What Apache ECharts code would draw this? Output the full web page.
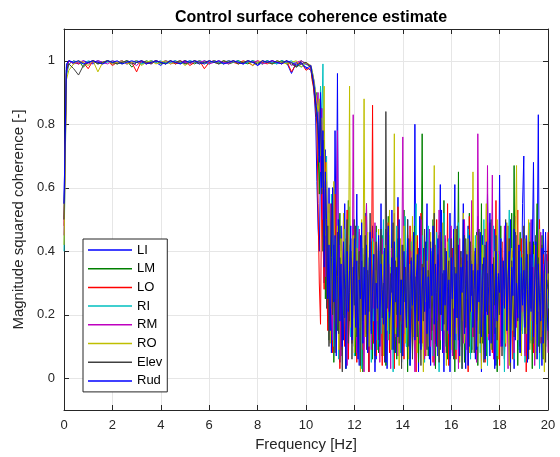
<!DOCTYPE html>
<html>
<head>
<meta charset="utf-8">
<script src="https://cdn.jsdelivr.net/npm/echarts@6/dist/echarts.min.js"></script>
<style>html,body{margin:0;padding:0;background:#fff}#c{width:560px;height:457px}</style>
</head>
<body>
<div id="c"></div>
<script>
// ---- frequency grids (Hz) ----
var freqFlat = [0, 0.1];
for (var k = 1; k <= 51; k++) freqFlat.push(+(0.2 * k).toFixed(2));      // 0.2 .. 10.2
var freqNoisy = [];
for (var i = 0; i < 196; i++) freqNoisy.push(+(10.25 + 0.05 * i).toFixed(2)); // 10.25 .. 20

var names = ['LI', 'LM', 'LO', 'RI', 'RM', 'RO', 'Elev', 'Rud'];
var colors = ['#0000ff', '#008000', '#ff0000', '#00bfbf', '#bf00bf', '#bfbf00', '#404040', '#0000ff'];
var xTicks = [0, 2, 4, 6, 8, 10, 12, 14, 16, 18, 20];
var yTicks = [0, 0.2, 0.4, 0.6, 0.8, 1];

// ---- coherence, 0 .. 10.2 Hz ----
var LI_flat = [.55,.98,1,
 .995,.99,1,.995,.99,1,.995,1,.99,.995,
 1,.99,.995,1,.995,.99,1,.995,.985,1,
 .995,1,.99,.995,1,.995,.99,1,.995,1,
 .99,.995,1,.995,1,.99,.995,1,.985,.995,
 1,.995,.99,1,.995,.96,.995,.99,.98,.97];
var LM_flat = [.50,.97,1,
 .99,1,.98,.995,1,.99,.995,1,.995,.99,
 .995,1,.98,.995,.99,1,.995,1,.99,.995,
 1,.99,.995,1,.995,.99,1,.995,.99,1,
 .995,1,.99,.995,1,.995,.99,1,.995,.99,
 1,.99,.995,1,.99,.995,.98,1,.99,.98];
var LO_flat = [.48,.96,.99,
 1,.99,.995,.975,1,.995,.99,1,.985,.995,
 .99,1,.995,.965,1,.99,.995,1,.995,.99,
 1,.99,.995,1,.985,.995,1,.975,.995,1,
 .995,.99,1,.995,.99,1,.995,.985,1,.995,
 .99,1,.995,.99,1,.965,.99,.995,.97,.98];
var RI_flat = [.40,.95,.99,
 1,.995,.99,1,.995,1,.99,.995,1,.995,
 .99,1,.995,1,.99,.995,1,.995,1,.99,
 .995,1,.995,.99,1,.995,1,.995,.99,1,
 .995,.99,1,.995,1,.99,.995,1,.995,.99,
 1,.995,.99,1,.995,1,.99,.98,.99,.985];
var RM_flat = [.45,.96,1,
 .99,.995,1,.99,.995,1,.995,.99,1,.995,
 1,.99,.995,.985,1,.995,.99,1,.995,1,
 .99,.995,1,.995,.99,1,.995,1,.99,.995,
 1,.995,.99,1,.995,.99,1,.995,1,.99,
 .995,1,.995,.99,1,.985,.995,1,.99,.985];
var RO_flat = [.42,.94,.97,
 .99,1,.995,.985,1,.965,.995,1,.99,.995,
 1,.99,.995,1,.985,.995,1,.99,.995,1,
 .99,.995,1,.985,.995,1,.995,.99,1,.995,
 .99,1,.995,1,.99,.995,1,.985,.995,1,
 .995,.99,1,.995,.99,.995,1,.98,.995,.985];
var Elev_flat = [.50,.97,.99,
 .975,.955,.985,.995,1,.99,.995,1,.995,.99,
 .995,1,.99,.995,1,.995,.99,1,.995,.99,
 1,.995,1,.99,.995,1,.99,.995,1,.995,
 .99,1,.995,1,.99,.995,1,.995,.99,1,
 .995,.99,1,.995,1,.99,.98,.99,.995,.98];
var Rud_flat = [.55,.99,1,
 .995,1,.99,.995,1,.995,.99,1,.995,1,
 .99,.995,1,.995,1,.99,.995,1,.995,.99,
 1,.995,.99,1,.995,1,.995,.99,1,.995,
 1,.99,.995,1,.995,.99,1,.995,.985,1,
 .995,1,.995,.99,1,.995,.985,.995,.975,.985];

// ---- coherence, 10.25 .. 20 Hz ----
var LI_noisy = [.95,.93,.88,.82,.62,.47,.40,.66,.85,.55,.30,.72,.45,.18,.60,
 .35,.08,.52,.28,.78,.40,.96,.22,.05,.48,.30,.12,.55,.20,.38,.06,.42,.25,.15,.50,
 .10,.33,.58,.18,.04,.45,.27,.09,.36,.52,.14,.30,.02,.40,.22,.48,.11,.35,.06,.28,
 .44,.16,.55,.07,.31,.20,.47,.03,.38,.25,.12,.53,.19,.40,.08,.34,.57,.15,.26,.05,
 .42,.18,.30,.10,.50,.24,.06,.37,.45,.13,.80,.20,.35,.02,.48,.27,.14,.41,.09,.32,
 .55,.17,.28,.04,.39,.22,.46,.11,.33,.07,.25,.61,.15,.38,.02,.44,.20,.30,.10,.52,
 .26,.08,.36,.61,.18,.45,.05,.29,.40,.12,.55,.21,.03,.34,.48,.16,.27,.09,.42,.23,
 .06,.37,.51,.14,.30,.02,.45,.19,.35,.10,.58,.25,.07,.40,.28,.13,.47,.04,.33,.20,
 .64,.11,.38,.26,.06,.43,.17,.31,.09,.50,.22,.36,.03,.28,.45,.15,.40,.08,.24,.55,
 .70,.18,.32,.05,.44,.27,.12,.39,.68,.20,.08,.35,.83,.14,.30,.04,.47,.22,.10,.38,
 .25];
var LM_noisy = [.96,.94,.91,.88,.90,.72,.58,.80,.66,.40,.75,.25,.55,.38,.12,
 .45,.22,.60,.05,.33,.48,.15,.28,.52,.09,.37,.20,.44,.03,.30,.56,.18,.40,.11,.26,
 .50,.07,.34,.21,.46,.13,.29,.02,.39,.24,.55,.10,.31,.17,.43,.06,.36,.25,.48,.14,
 .08,.33,.20,.45,.12,.38,.04,.27,.51,.16,.35,.09,.42,.23,.30,.06,.47,.18,.37,.11,
 .25,.53,.14,.32,.02,.44,.20,.36,.08,.29,.48,.15,.40,.05,.34,.22,.77,.10,.31,.18,
 .43,.07,.26,.39,.12,.50,.21,.03,.35,.16,.45,.09,.30,.24,.56,.11,.38,.06,.28,.19,
 .41,.14,.33,.02,.47,.22,.65,.10,.36,.18,.27,.05,.44,.30,.13,.52,.20,.08,.39,.25,
 .16,.46,.04,.32,.21,.55,.11,.37,.26,.07,.42,.18,.29,.50,.09,.35,.14,.40,.02,.31,
 .23,.48,.12,.36,.06,.28,.44,.17,.33,.09,.52,.20,.67,.13,.38,.04,.30,.46,.15,.26,
 .40,.08,.34,.21,.49,.11,.27,.03,.43,.18,.36,.55,.10,.29,.22,.45,.06,.33,.16,.39,
 .12];
var LO_noisy = [.94,.92,.89,.85,.80,.55,.30,.17,.62,.45,.28,.68,.35,.15,.50,
 .22,.40,.08,.33,.58,.14,.27,.46,.03,.36,.19,.42,.10,.31,.53,.06,.25,.38,.12,.47,
 .20,.34,.05,.29,.44,.15,.39,.09,.26,.51,.17,.32,.02,.41,.24,.86,.11,.37,.07,.30,
 .45,.18,.28,.04,.40,.21,.35,.12,.49,.08,.33,.25,.43,.03,.30,.16,.54,.20,.37,.10,
 .27,.06,.42,.19,.34,.13,.48,.23,.09,.38,.29,.02,.45,.17,.31,.52,.11,.26,.40,.07,
 .35,.21,.46,.14,.28,.05,.39,.24,.50,.10,.32,.18,.43,.08,.27,.37,.15,.55,.04,.30,
 .22,.41,.12,.33,.06,.47,.19,.29,.38,.09,.25,.44,.16,.35,.02,.51,.21,.31,.13,.40,
 .28,.07,.36,.18,.45,.11,.24,.39,.05,.33,.49,.15,.27,.41,.08,.30,.20,.56,.12,.34,
 .04,.26,.43,.17,.37,.10,.31,.48,.14,.22,.40,.06,.35,.19,.28,.53,.09,.33,.44,.16,
 .25,.38,.02,.30,.47,.13,.36,.21,.08,.42,.27,.17,.34,.50,.11,.23,.39,.06,.31,.20,
 .46];
var RI_noisy = [.97,.95,.93,.90,.87,.83,.75,.92,.80,.99,.60,.42,.70,.28,.52,
 .18,.58,.35,.10,.44,.25,.50,.06,.32,.40,.15,.28,.47,.09,.37,.21,.54,.13,.30,.42,
 .07,.35,.24,.48,.16,.29,.03,.41,.20,.33,.52,.11,.38,.26,.05,.44,.18,.31,.46,.09,
 .27,.40,.14,.34,.50,.06,.23,.37,.12,.45,.20,.30,.02,.39,.25,.48,.15,.33,.08,.42,
 .19,.28,.51,.10,.36,.22,.04,.43,.31,.16,.38,.55,.09,.26,.34,.13,.45,.20,.05,.37,
 .29,.48,.12,.23,.40,.07,.33,.18,.46,.27,.02,.39,.15,.31,.52,.10,.36,.21,.44,.06,
 .32,.17,.41,.25,.09,.38,.49,.14,.28,.03,.43,.20,.35,.11,.47,.24,.06,.37,.18,.30,
 .45,.12,.26,.40,.08,.34,.21,.50,.15,.29,.04,.42,.23,.36,.10,.48,.19,.32,.07,.39,
 .25,.44,.13,.30,.02,.41,.22,.35,.53,.11,.27,.38,.06,.46,.17,.33,.09,.40,.24,.14,
 .36,.05,.43,.20,.31,.49,.12,.28,.39,.08,.45,.18,.34,.03,.26,.41,.15,.30,.10,.37,
 .22];
var RM_noisy = [.96,.95,.92,.89,.86,.90,.78,.65,.85,.50,.70,.32,.62,.40,.20,
 .55,.30,.12,.48,.25,.38,.78,.16,.42,.07,.33,.50,.20,.29,.04,.45,.26,.37,.11,.83,
 .19,.40,.08,.31,.47,.14,.35,.24,.02,.39,.55,.17,.28,.43,.09,.34,.22,.49,.12,.30,
 .38,.05,.27,.44,.16,.33,.10,.46,.21,.36,.03,.41,.25,.52,.13,.30,.07,.39,.18,.28,
 .76,.14,.35,.22,.45,.09,.31,.40,.17,.27,.02,.43,.20,.37,.11,.50,.24,.33,.06,.41,
 .15,.29,.47,.10,.36,.23,.04,.42,.30,.18,.53,.12,.34,.26,.08,.45,.19,.38,.14,.31,
 .48,.07,.25,.39,.16,.32,.03,.44,.21,.35,.11,.50,.27,.09,.40,.18,.30,.56,.13,.36,
 .22,.05,.77,.28,.43,.15,.33,.09,.47,.20,.67,.12,.38,.25,.64,.06,.31,.42,.17,.29,
 .40,.10,.35,.23,.48,.14,.30,.03,.44,.19,.37,.26,.08,.51,.16,.33,.42,.11,.28,.21,
 .45,.07,.32,.38,.13,.27,.50,.18,.35,.04,.41,.24,.30,.10,.46,.20,.36,.15,.28,.39,
 .08];
var RO_noisy = [.97,.95,.92,.90,.87,.84,.88,.70,.82,.60,.92,.45,.68,.30,.55,
 .11,.40,.25,.62,.18,.35,.48,.09,.30,.44,.14,.52,.27,.06,.38,.22,.92,.16,.33,.45,
 .08,.29,.41,.19,.36,.02,.50,.24,.88,.13,.32,.46,.10,.37,.21,.28,.43,.05,.34,.18,
 .47,.12,.30,.39,.07,.26,.42,.15,.35,.53,.09,.31,.20,.77,.14,.38,.25,.04,.44,.17,
 .33,.48,.11,.28,.40,.06,.36,.22,.51,.13,.30,.45,.08,.27,.39,.16,.34,.02,.42,.24,
 .37,.10,.29,.46,.19,.33,.67,.12,.25,.41,.07,.35,.20,.49,.15,.31,.04,.43,.26,.38,
 .09,.34,.22,.47,.14,.29,.40,.05,.36,.18,.52,.11,.30,.25,.44,.08,.39,.21,.65,.16,
 .32,.45,.10,.27,.38,.03,.42,.20,.35,.55,.13,.28,.47,.09,.33,.24,.40,.16,.50,.06,
 .30,.43,.18,.26,.37,.11,.49,.22,.04,.34,.41,.15,.29,.45,.67,.12,.36,.20,.07,.39,
 .27,.44,.14,.32,.50,.09,.25,.38,.17,.42,.06,.31,.21,.47,.13,.35,.28,.02,.40,.19,
 .33];
var Elev_noisy = [.95,.93,.90,.86,.82,.78,.70,.88,.58,.75,.40,.62,.22,.48,.10,
 .36,.55,.20,.42,.08,.30,.46,.14,.38,.25,.02,.41,.19,.33,.50,.11,.27,.44,.06,.35,
 .23,.48,.13,.31,.40,.04,.37,.18,.29,.45,.09,.34,.21,.52,.15,.28,.39,.07,.43,.26,
 .12,.36,.47,.19,.30,.05,.84,.22,.40,.14,.33,.27,.49,.08,.37,.20,.44,.11,.31,.03,
 .42,.24,.35,.16,.50,.10,.28,.38,.06,.45,.21,.32,.13,.41,.26,.04,.36,.18,.47,.29,
 .09,.34,.22,.43,.15,.30,.52,.11,.27,.39,.05,.46,.20,.33,.17,.41,.08,.29,.37,.13,
 .44,.24,.06,.35,.19,.48,.12,.31,.40,.03,.28,.45,.16,.37,.22,.10,.43,.26,.34,.08,
 .39,.18,.30,.47,.11,.25,.36,.05,.42,.21,.33,.14,.49,.27,.09,.38,.23,.45,.12,.32,
 .20,.41,.07,.35,.28,.50,.15,.31,.44,.02,.37,.24,.13,.46,.30,.18,.40,.10,.33,.25,
 .48,.14,.29,.39,.06,.43,.22,.35,.11,.30,.45,.17,.38,.08,.27,.42,.19,.34,.05,.31,
 .28];
var Rud_noisy = [.96,.94,.91,.87,.84,.80,.68,.90,.60,.78,.35,.65,.50,.25,.42,
 .15,.38,.60,.24,.45,.07,.32,.50,.18,.36,.10,.43,.28,.03,.40,.21,.34,.48,.12,.29,
 .44,.16,.37,.06,.31,.25,.49,.11,.35,.20,.42,.08,.33,.46,.14,.27,.39,.02,.30,.22,
 .45,.10,.36,.28,.17,.41,.05,.32,.48,.19,.26,.38,.09,.43,.24,.35,.13,.50,.20,.31,
 .07,.40,.27,.16,.44,.33,.04,.37,.23,.46,.12,.30,.39,.18,.51,.09,.28,.35,.21,.43,
 .14,.32,.06,.41,.26,.48,.17,.36,.10,.44,.29,.20,.53,.08,.34,.23,.40,.15,.31,.02,
 .38,.25,.47,.12,.33,.19,.42,.07,.35,.27,.50,.14,.30,.39,.04,.45,.21,.36,.16,.28,
 .41,.09,.34,.24,.46,.13,.31,.38,.06,.43,.20,.29,.52,.11,.36,.25,.03,.40,.18,.33,
 .27,.44,.10,.37,.22,.49,.15,.32,.40,.05,.35,.26,.47,.12,.30,.19,.42,.08,.38,.23,
 .34,.16,.45,.28,.09,.39,.21,.50,.13,.31,.43,.06,.36,.25,.18,.41,.11,.33,.46,.24,
 .15];

var flatData = [LI_flat, LM_flat, LO_flat, RI_flat, RM_flat, RO_flat, Elev_flat, Rud_flat];
var noisyData = [LI_noisy, LM_noisy, LO_noisy, RI_noisy, RM_noisy, RO_noisy, Elev_noisy, Rud_noisy];

function pairs(fl, ny) {
  var out = [];
  for (var a = 0; a < freqFlat.length && a < fl.length; a++) out.push([freqFlat[a], fl[a]]);
  for (var b = 0; b < freqNoisy.length && b < ny.length; b++) out.push([freqNoisy[b], ny[b]]);
  return out;
}

var FONT = 'Liberation Sans, Arial, Helvetica, sans-serif';
var AX = '#262626';
var series = names.map(function (n, s) {
  return {
    name: n, type: 'line', symbol: 'none', showSymbol: false,
    data: pairs(flatData[s], noisyData[s]),
    lineStyle: { width: 1, color: colors[s] },
    itemStyle: { color: colors[s] },
    emphasis: { disabled: true }, animation: false, z: 2 + s
  };
});

var chart = echarts.init(document.getElementById('c'), null, { renderer: 'canvas' });
chart.setOption({
  animation: false,
  backgroundColor: '#ffffff',
  title: {
    text: 'Control surface coherence estimate',
    left: 306, top: 5, textAlign: 'center',
    textStyle: { fontFamily: FONT, fontSize: 16, fontWeight: 'bold', color: '#000' }
  },
  grid: { left: 64, right: 12, top: 29, bottom: 47, containLabel: false },
  legend: {
    data: names, orient: 'vertical', left: 83, top: 239,
    icon: 'rect', itemWidth: 44, itemHeight: 1.5, itemGap: 2.7,
    padding: [3, 5, 3, 5],
    backgroundColor: '#ffffff', borderColor: '#262626', borderWidth: 1,
    textStyle: { fontFamily: FONT, fontSize: 13, color: '#000', lineHeight: 16 },
    selectedMode: false
  },
  xAxis: [{
    type: 'value', min: 0, max: 20, interval: 2, position: 'bottom',
    name: 'Frequency [Hz]', nameLocation: 'middle', nameGap: 24,
    nameTextStyle: { fontFamily: FONT, fontSize: 15, color: AX },
    axisLine: { show: true, onZero: false, lineStyle: { color: AX, width: 1 } },
    axisTick: { show: true, inside: true, length: 5, lineStyle: { color: AX } },
    axisLabel: { fontFamily: FONT, fontSize: 13, color: AX, margin: 9 },
    splitLine: { show: true, lineStyle: { color: '#e6e6e6', width: 1 } }
  }, {
    type: 'value', min: 0, max: 20, interval: 2, position: 'top',
    axisLine: { show: true, onZero: false, lineStyle: { color: AX, width: 1 } },
    axisTick: { show: true, inside: true, length: 5, lineStyle: { color: AX } },
    axisLabel: { show: false }, splitLine: { show: false }
  }],
  yAxis: [{
    type: 'value', min: -0.1, max: 1.1, position: 'left',
    name: 'Magnitude squared coherence [-]', nameLocation: 'middle', nameGap: 29,
    nameTextStyle: { fontFamily: FONT, fontSize: 15, color: AX },
    axisLine: { show: true, onZero: false, lineStyle: { color: AX, width: 1 } },
    axisTick: { show: true, inside: true, length: 5, lineStyle: { color: AX }, customValues: yTicks },
    axisLabel: { fontFamily: FONT, fontSize: 13, color: AX, margin: 9, customValues: yTicks,
      formatter: function (v) { return String(+(+v).toFixed(1)); } },
    splitLine: { show: true, lineStyle: { color: '#e6e6e6', width: 1 } }
  }, {
    type: 'value', min: -0.1, max: 1.1, position: 'right',
    axisLine: { show: true, onZero: false, lineStyle: { color: AX, width: 1 } },
    axisTick: { show: true, inside: true, length: 5, lineStyle: { color: AX }, customValues: yTicks },
    axisLabel: { show: false }, splitLine: { show: false }
  }],
  series: series
});
</script>
</body>
</html>
